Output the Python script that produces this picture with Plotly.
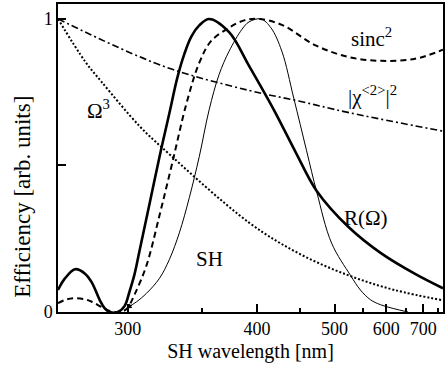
import plotly.graph_objects as go

# ---- data ----
# wavelengths in nm, efficiencies in arb. units
lam_R = [264.4, 267.3, 272.3, 277.3, 280.6, 284.7, 287.3, 290.0, 294.4, 298.2, 301.1, 304.1, 307.1,
         313.3, 319.7, 326.4, 331.9, 336.9, 342.1, 348.2, 356.1, 373.2, 392.0, 418.2, 444.4, 472.8,
         523.6, 588.6, 675.2, 768.6]
eff_R = [0.075, 0.112, 0.146, 0.13, 0.10, 0.04, 0.012, 0.0, 0.0, 0.02, 0.07, 0.13, 0.21,
         0.37, 0.53, 0.68, 0.80, 0.88, 0.94, 0.978, 1.0, 0.955, 0.84, 0.69, 0.545, 0.413,
         0.29, 0.2, 0.13, 0.081]

lam_sinc = [264.4, 268.0, 272.3, 277.3, 280.6, 284.7, 288.4, 291.6, 295.5, 299.4, 304.1, 311.4,
            319.7, 328.4, 338.4, 348.2, 357.8, 373.2, 387.1, 402.1, 427.4, 471.2, 523.6, 588.6,
            675.2, 768.6]
eff_sinc = [0.03, 0.042, 0.047, 0.043, 0.035, 0.02, 0.007, 0.0, 0.0, 0.01, 0.06, 0.16,
            0.33, 0.51, 0.71, 0.85, 0.925, 0.97, 0.995, 1.0, 0.98, 0.91, 0.87, 0.857,
            0.864, 0.895]

lam_SH = [299.4, 305.3, 311.4, 319.7, 326.4, 333.3, 340.6, 348.2, 356.1, 364.4, 373.2, 385.2,
          392.0, 404.1, 414.9, 427.4, 441.9, 458.7, 472.8, 495.3, 527.1, 545.5, 565.3, 586.5,
          616.6, 655.2]
eff_SH = [0.013, 0.035, 0.064, 0.115, 0.18, 0.27, 0.39, 0.53, 0.69, 0.81, 0.89, 0.965,
          0.99, 1.0, 0.97, 0.89, 0.73, 0.55, 0.41, 0.235, 0.125, 0.075, 0.042, 0.025,
          0.012, 0.0]

lam_chi = [264.4, 321.6, 392.0, 448.2, 525.0, 768.6]
eff_chi = [1.0, 0.84, 0.756, 0.72, 0.68, 0.617]

lam_om = [264.4, 277.3, 285.5, 307.1, 321.6, 392.0, 448.2, 523.6, 620.0, 768.6]
eff_om = [1.0, 0.854, 0.786, 0.634, 0.56, 0.305, 0.2, 0.125, 0.075, 0.04]

tick_nm = [300, 400, 500, 600, 700]
minor_nm = [350, 450, 550, 650, 750]
lam_range = [264.4, 768.6]


def nu(lams):
    # SH frequency axis (1/um): the reference axis is linear in 1/wavelength
    return [1000.0 / l for l in lams]


FONT = "Liberation Serif"

fig = go.Figure()
fig.add_trace(go.Scatter(x=nu(lam_om), y=eff_om, mode="lines",
                         line=dict(color="black", width=2, dash="2px,2px", shape="spline", smoothing=1.0)))
fig.add_trace(go.Scatter(x=nu(lam_chi), y=eff_chi, mode="lines",
                         line=dict(color="black", width=1.6, dash="7px,3px,2px,3px", shape="spline", smoothing=1.0)))
fig.add_trace(go.Scatter(x=nu(lam_sinc), y=eff_sinc, mode="lines",
                         line=dict(color="black", width=2, dash="6px,4px", shape="spline", smoothing=1.0)))
fig.add_trace(go.Scatter(x=nu(lam_SH), y=eff_SH, mode="lines",
                         line=dict(color="black", width=1, shape="spline", smoothing=1.0)))
fig.add_trace(go.Scatter(x=nu(lam_R), y=eff_R, mode="lines",
                         line=dict(color="black", width=2.6, shape="spline", smoothing=1.0)))

labels = [
    ("sinc<sup>2</sup>", 567, 0.935),
    ("|χ<sup>&lt;2&gt;</sup>|<sup>2</sup>", 569, 0.74),
    ("Ω<sup>3</sup>", 284.2, 0.69),
    ("SH", 356.1, 0.18),
    ("R(Ω)", 557, 0.322),
]
for txt, lx, ly in labels:
    fig.add_annotation(x=1000.0 / lx, y=ly, text=txt, showarrow=False,
                       font=dict(family=FONT, size=21, color="black"))

# small arrowhead at the end of the SH curve
fig.add_annotation(x=1000.0 / lam_SH[0], y=eff_SH[0], text="", showarrow=True,
                   arrowhead=2, arrowsize=1, arrowwidth=1, arrowcolor="black",
                   ax=7, ay=-4)

# y-axis title (placed like in the reference, slightly below the centre)
fig.add_annotation(xref="paper", yref="paper", x=-0.093, y=0.375, text="Efficiency [arb. units]",
                   textangle=-90, showarrow=False, xanchor="center", yanchor="middle",
                   font=dict(family=FONT, size=23, color="black"))

fig.update_xaxes(
    range=[1000.0 / lam_range[0], 1000.0 / lam_range[1]],
    tickvals=nu(tick_nm), ticktext=[str(t) for t in tick_nm],
    ticks="inside", ticklen=8, tickwidth=1.5, tickcolor="black",
    minor=dict(tickvals=nu(minor_nm), ticks="inside", ticklen=4, tickwidth=1.5, tickcolor="black"),
    showline=True, linecolor="black", linewidth=1.5, mirror=True,
    showgrid=False, zeroline=False,
    tickfont=dict(family=FONT, size=18, color="black"),
    title=dict(text="SH wavelength [nm]", font=dict(family=FONT, size=20, color="black"), standoff=6),
)
fig.update_yaxes(
    range=[0, 1.051],
    tickvals=[0, 0.5, 1], ticktext=["0", "", "1"],
    ticks="inside", ticklen=8, tickwidth=1.5, tickcolor="black",
    showline=True, linecolor="black", linewidth=1.5, mirror=True,
    showgrid=False, zeroline=False,
    tickfont=dict(family=FONT, size=18, color="black"),
)
fig.update_layout(
    width=447, height=371,
    margin=dict(l=58, r=3, t=2, b=59),
    paper_bgcolor="white", plot_bgcolor="white",
    showlegend=False,
)
fig.write_html("out.html")
